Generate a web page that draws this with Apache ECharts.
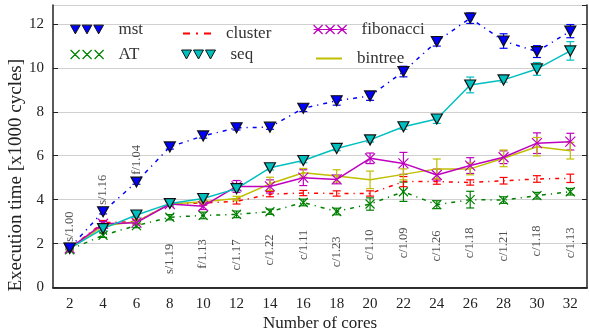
<!DOCTYPE html>
<html><head><meta charset="utf-8">
<script src="https://cdn.jsdelivr.net/npm/echarts@6/dist/echarts.min.js"></script>
<style>html,body{margin:0;padding:0;background:#fff}#c{width:589px;height:336px}</style>
</head><body><div id="c"></div>
<script>
const cores = ['2','4','6','8','10','12','14','16','18','20','22','24','26','28','30','32'];
const mst = [1.8, 3.45, 4.8, 6.4, 6.9, 7.27, 7.3, 8.16, 8.5, 8.72, 9.83, 11.2, 12.26, 11.22, 10.74, 11.67];
const mstErr = [0.05, 0.1, 0.1, 0.1, 0.1, 0.1, 0.1, 0.15, 0.2, 0.2, 0.24, 0.21, 0.24, 0.33, 0.27, 0.3];
const AT = [1.72, 2.38, 2.82, 3.2, 3.28, 3.33, 3.45, 3.87, 3.46, 3.8, 4.36, 3.77, 4.0, 3.98, 4.18, 4.36];
const ATErr = [0.05, 0.1, 0.1, 0.12, 0.15, 0.15, 0.12, 0.15, 0.15, 0.28, 0.44, 0.18, 0.38, 0.15, 0.15, 0.15];
const cluster = [1.78, 2.95, 3.0, 3.8, 3.85, 3.92, 4.25, 4.3, 4.28, 4.28, 4.82, 4.82, 4.78, 4.86, 4.94, 4.97];
const clusterErr = [0.05, 0.1, 0.1, 0.1, 0.1, 0.12, 0.12, 0.12, 0.12, 0.12, 0.23, 0.12, 0.12, 0.15, 0.15, 0.19];
const fibonacci = [1.78, 2.9, 2.95, 3.8, 3.7, 4.6, 4.6, 5.0, 4.92, 5.88, 5.65, 5.12, 5.55, 5.93, 6.57, 6.64];
const fibonacciErr = [0.05, 0.1, 0.1, 0.1, 0.15, 0.27, 0.3, 0.36, 0.2, 0.24, 0.5, 0.27, 0.36, 0.29, 0.47, 0.38];
const seq = [1.78, 2.68, 3.3, 3.82, 4.05, 4.5, 5.45, 5.78, 6.33, 6.72, 7.32, 7.67, 9.22, 9.45, 9.95, 10.77];
const seqErr = [0.05, 0.1, 0.1, 0.1, 0.1, 0.1, 0.1, 0.1, 0.1, 0.1, 0.12, 0.2, 0.36, 0.1, 0.29, 0.42];
const bintree = [1.75, 2.8, 3.0, 3.8, 3.9, 4.05, 4.72, 5.22, 5.08, 4.9, 5.15, 5.4, 5.4, 5.88, 6.41, 6.23];
const bintreeErr = [0.05, 0.1, 0.1, 0.1, 0.1, 0.1, 0.3, 0.2, 0.28, 0.4, 0.25, 0.45, 0.27, 0.38, 0.42, 0.38];
const annotText = ['s/1.00','s/1.16','f/1.04','s/1.19','f/1.13','c/1.17','c/1.22','c/1.11','c/1.23','c/1.10','c/1.09','c/1.26','c/1.18','c/1.21','c/1.18','c/1.13'];
const annotY = [2.77, 4.45, 5.81, 1.30, 1.53, 1.48, 1.71, 1.94, 1.62, 1.94, 2.03, 1.89, 2.03, 1.89, 2.12, 2.03];
const yTicks = [0, 2, 4, 6, 8, 10, 12];

const FONT = 'Liberation Serif';
const C = {mst:'#0000ff', AT:'#008000', cluster:'#ff0000', fibonacci:'#bf00bf', seq:'#00bfbf', bintree:'#bfbf00'};
const TRI = 'path://M0 0L10 0L5 9Z';
const XM = 'path://M0 0L10 10M0 10L10 0';

function errSeries(name, vals, errs, color) {
  return {
    type: 'custom', name: name + ' err', silent: true, z: 3,
    data: vals.map((v, i) => [i, v - errs[i], v + errs[i]]),
    renderItem(params, api) {
      const i = api.value(0);
      const p1 = api.coord([i, api.value(2)]);
      const p2 = api.coord([i, api.value(1)]);
      const w = 4, st = {stroke: color, lineWidth: 1.2};
      return {type: 'group', children: [
        {type: 'line', shape: {x1: p1[0], y1: p1[1], x2: p2[0], y2: p2[1]}, style: st},
        {type: 'line', shape: {x1: p1[0]-w, y1: p1[1], x2: p1[0]+w, y2: p1[1]}, style: st},
        {type: 'line', shape: {x1: p2[0]-w, y1: p2[1], x2: p2[0]+w, y2: p2[1]}, style: st}
      ]};
    }
  };
}

const dashDot = [4, 5, 1.2, 5];
const series = [
  errSeries('mst', mst, mstErr, C.mst),
  errSeries('AT', AT, ATErr, C.AT),
  errSeries('cluster', cluster, clusterErr, C.cluster),
  errSeries('fibonacci', fibonacci, fibonacciErr, C.fibonacci),
  errSeries('seq', seq, seqErr, C.seq),
  errSeries('bintree', bintree, bintreeErr, C.bintree),
  {name:'cluster', type:'line', data:cluster, symbol:'none', z:4,
   lineStyle:{color:C.cluster, width:1.5, type:dashDot}, itemStyle:{color:C.cluster}},
  {name:'AT', type:'line', data:AT, symbol:XM, symbolSize:9, z:4,
   lineStyle:{color:C.AT, width:1.5, type:dashDot},
   itemStyle:{color:C.AT, borderColor:C.AT, borderWidth:1.2}},
  {name:'bintree', type:'line', data:bintree, symbol:'none', z:5,
   lineStyle:{color:C.bintree, width:1.5}, itemStyle:{color:C.bintree}},
  {name:'fibonacci', type:'line', data:fibonacci, symbol:XM, symbolSize:10, z:6,
   lineStyle:{color:C.fibonacci, width:1.5},
   itemStyle:{color:C.fibonacci, borderColor:C.fibonacci, borderWidth:1.2}},
  {name:'seq', type:'line', data:seq, symbol:TRI, symbolSize:[11,10], z:7,
   lineStyle:{color:C.seq, width:1.5},
   itemStyle:{color:C.seq, borderColor:'#111', borderWidth:1.2}},
  {name:'mst', type:'line', data:mst, symbol:TRI, symbolSize:[11,10], z:8,
   lineStyle:{color:C.mst, width:1.5, type:dashDot},
   itemStyle:{color:C.mst, borderColor:'#111', borderWidth:1.2}},
  {name:'annot', type:'scatter', data:annotY.map((v,i)=>[i, v]), symbolSize:1, z:9, silent:true,
   itemStyle:{color:'rgba(0,0,0,0)'},
   label:{show:true, position:'inside', rotate:90, fontFamily:FONT, fontSize:12.5, color:'#222',
     formatter:p=>annotText[p.dataIndex]}}
];

function leg(name, icon, left, top, w, h, style) {
  return {data:[{name, icon, itemStyle:style}], left, top, itemWidth:w, itemHeight:h,
    orient:'vertical', selectedMode:false, padding:0,
    textStyle:{fontFamily:FONT, fontSize:17, color:'#333', padding:[0,0,0,10]}};
}
const TRI3 = 'path://M0 0L10 0L5 9Z M12 0L22 0L17 9Z M24 0L34 0L29 9Z';
const X3 = 'path://M0 0L9 9M0 9L9 0M12 0L21 9M12 9L21 0M24 0L33 9M24 9L33 0';
const X3L = 'path://M0 0L9 9M0 9L9 0M12 0L21 9M12 9L21 0M24 0L33 9M24 9L33 0M0 4.5L33 4.5';
const DD = 'path://M0 0h7v2h-7z M13 0h2v2h-2z M21 0h7v2h-7z';
const LN = 'path://M0 0h26v2h-26z';

const option = {
  animation:false,
  backgroundColor:'#fff',
  grid:{left:53, right:2, top:5, bottom:48.5, show:false, containLabel:false, outerBoundsMode:'none'},
  legend:[
    leg('mst', TRI3, 70, 21, 33, 10, {color:C.mst, borderColor:'#111', borderWidth:1}),
    leg('AT', X3, 70, 46, 33, 9, {color:'rgba(0,0,0,0)', borderColor:C.AT, borderWidth:1.2}),
    leg('cluster', DD, 183, 25, 28, 2, {color:C.cluster, borderWidth:0}),
    leg('seq', TRI3, 181, 46, 34, 10, {color:C.seq, borderColor:'#111', borderWidth:1}),
    leg('fibonacci', X3L, 313, 21, 33, 9, {color:'rgba(0,0,0,0)', borderColor:C.fibonacci, borderWidth:1.2}),
    leg('bintree', LN, 316, 50, 26, 2, {color:C.bintree, borderWidth:0})
  ],
  xAxis:[
    {type:'category', data:cores, boundaryGap:true, position:'bottom',
     name:'Number of cores', nameLocation:'middle', nameGap:28, nameMoveOverlap:false,
     nameTextStyle:{fontFamily:FONT, fontSize:17, color:'#222'},
     axisLine:{lineStyle:{color:'#222', width:1.5}},
     axisTick:{inside:true, alignWithLabel:true, length:5, lineStyle:{color:'#222'}},
     axisLabel:{fontFamily:FONT, fontSize:15, color:'#222', margin:9},
     splitLine:{show:false}},
    {type:'category', data:cores, boundaryGap:true, position:'top',
     axisLine:{lineStyle:{color:'#222', width:1.5}},
     axisTick:{inside:true, alignWithLabel:true, length:5, lineStyle:{color:'#222'}},
     axisLabel:{show:false}, splitLine:{show:false}}
  ],
  yAxis:[
    {type:'value', min:0, max:12.86, interval:2, position:'left',
     name:'Execution time [x1000 cycles]', nameLocation:'middle', nameGap:27, nameMoveOverlap:false,
     nameTextStyle:{fontFamily:FONT, fontSize:19, color:'#222', padding:[0,58,0,0]},
     axisLine:{show:true, lineStyle:{color:'#222', width:1.5}},
     axisTick:{show:true, inside:true, length:5, lineStyle:{color:'#222'}},
     axisLabel:{fontFamily:FONT, fontSize:15, color:'#222', margin:9, showMaxLabel:false,
       formatter:v=>yTicks.includes(v)?String(v):''},
     splitLine:{show:true, lineStyle:{color:'#d0d0d0', width:1}}},
    {type:'value', min:0, max:12.86, interval:2, position:'right',
     axisLine:{show:true, lineStyle:{color:'#222', width:1.5}},
     axisTick:{show:true, inside:true, length:5, lineStyle:{color:'#222'}},
     axisLabel:{show:false}, splitLine:{show:false}}
  ],
  series
};
const chart = echarts.init(document.getElementById('c'), null, {renderer:'canvas'});
chart.setOption(option);
</script></body></html>
